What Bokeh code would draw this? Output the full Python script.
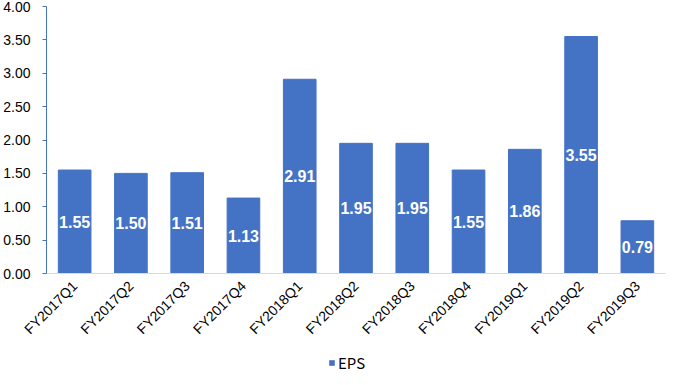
import math
from bokeh.plotting import figure
from bokeh.layouts import column
from bokeh.models import ColumnDataSource, FactorRange, Range1d, FixedTicker, NumeralTickFormatter, LabelSet, Legend, LegendItem
from bokeh.core.properties import value
from bokeh.embed import file_html
from bokeh.resources import INLINE

categories = ["FY2017Q1", "FY2017Q2", "FY2017Q3", "FY2017Q4", "FY2018Q1", "FY2018Q2",
              "FY2018Q3", "FY2018Q4", "FY2019Q1", "FY2019Q2", "FY2019Q3"]
eps = [1.55, 1.50, 1.51, 1.13, 2.91, 1.95, 1.95, 1.55, 1.86, 3.55, 0.79]
y_ticks = [0, 0.5, 1.0, 1.5, 2.0, 2.5, 3.0, 3.5, 4.0]
series_name = "EPS"
bar_color = "#4472C4"

src = ColumnDataSource(dict(
    cat=categories,
    eps=eps,
    mid=[v / 2 for v in eps],
    txt=["{:.2f}".format(v) for v in eps],
))

p = figure(width=666, height=349, x_range=FactorRange(*categories, range_padding=0),
           y_range=Range1d(0, 4), output_backend="svg", toolbar_location=None,
           min_border_left=43, min_border_right=1, min_border_top=6, min_border_bottom=76)
p.outline_line_color = None
p.grid.grid_line_color = None

r = p.vbar(x="cat", top="eps", width=0.58, source=src, color=bar_color)

labels = LabelSet(x="cat", y="mid", text="txt", source=src, text_align="center",
                  text_baseline="middle", text_color="white", text_font_size="16px",
                  text_font_style="bold", text_font=value("Liberation Sans"))
p.add_layout(labels)

p.yaxis.ticker = FixedTicker(ticks=y_ticks)
p.yaxis.formatter = NumeralTickFormatter(format="0.00")
p.yaxis.axis_line_color = bar_color
p.yaxis.major_tick_line_color = bar_color
p.yaxis.major_tick_out = 4
p.yaxis.major_tick_in = 0
p.yaxis.minor_tick_line_color = None
p.yaxis.major_label_text_font = "Liberation Sans"
p.yaxis.major_label_text_font_size = "14px"
p.yaxis.major_label_text_color = "#000000"
p.yaxis.major_label_standoff = 12

p.xaxis.axis_line_color = "#D9D9D9"
p.xaxis.major_tick_line_color = None
p.xaxis.minor_tick_line_color = None
p.xaxis.major_label_orientation = math.pi / 4
p.xaxis.major_label_text_font = "Liberation Sans"
p.xaxis.major_label_text_font_size = "14px"
p.xaxis.major_label_text_color = "#000000"
p.xaxis.major_label_standoff = 4

# legend strip (holds only the legend)
lg = figure(width=666, height=20, x_range=Range1d(0, 1), y_range=Range1d(0, 1),
            x_axis_location=None, y_axis_location=None,
            output_backend="svg", toolbar_location=None,
            min_border_left=0, min_border_right=0, min_border_top=0, min_border_bottom=0)
lg.grid.grid_line_color = None
lg.outline_line_color = None
lr = lg.vbar(x=[0.5], top=[0], bottom=[0], width=0.0, fill_color=bar_color, line_color=None)
legend = Legend(items=[LegendItem(label=series_name, renderers=[lr])], orientation="horizontal",
                location=(282, -4), border_line_color=None, background_fill_alpha=0,
                label_text_font="Noto Sans CJK SC", label_text_font_size="15px",
                label_text_color="#000000", glyph_width=7, glyph_height=7,
                label_standoff=3, padding=0, margin=0, label_height=13)
lg.add_layout(legend)

layout = column(p, lg, spacing=0)
open("out.html", "w").write(file_html(layout, INLINE))
